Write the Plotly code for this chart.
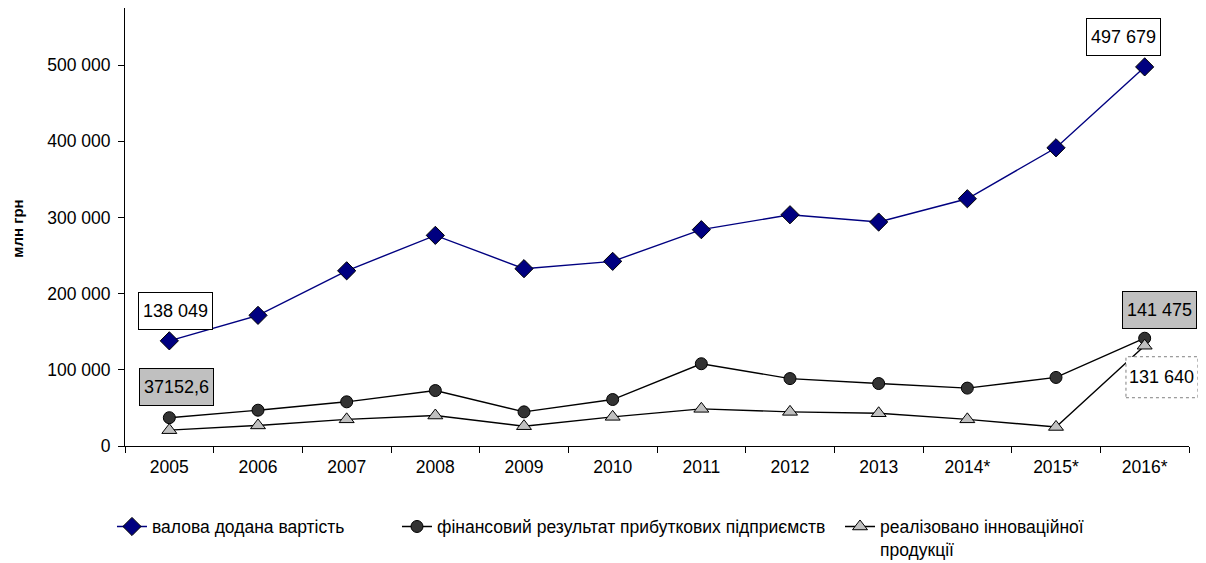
import plotly.graph_objects as go

years = ["2005", "2006", "2007", "2008", "2009", "2010", "2011", "2012", "2013", "2014*", "2015*", "2016*"]
gva = [138049, 171500, 230000, 276500, 232800, 242400, 284000, 303600, 294000, 324600, 391500, 497679]
profit = [37152.6, 47000, 58000, 72800, 44800, 61000, 108000, 88500, 82000, 76000, 90000, 141475]
innov = [20800, 27000, 35000, 40000, 26000, 38300, 48800, 44800, 43000, 35000, 25000, 131640]

names = ["валова додана вартість",
         "фінансовий результат прибуткових підприємств",
         "реалізовано інноваційної<br>продукції"]
labels = ["138 049", "37152,6", "497 679", "141 475", "131 640"]

font = "Arial, Liberation Sans, sans-serif"
ymax = 575000

fig = go.Figure()
fig.add_trace(go.Scatter(x=years, y=gva, name=names[0], mode="lines+markers", legend="legend",
                         line=dict(color="#000080", width=1.4),
                         marker=dict(symbol="diamond", size=14, color="#000080",
                                     line=dict(color="black", width=1))))
fig.add_trace(go.Scatter(x=years, y=profit, name=names[1], mode="lines+markers", legend="legend2",
                         line=dict(color="black", width=1.4),
                         marker=dict(symbol="circle", size=12, color="#333333",
                                     line=dict(color="black", width=1))))
fig.add_trace(go.Scatter(x=years, y=innov, name=names[2], mode="lines+markers", legend="legend3",
                         line=dict(color="black", width=1.4),
                         marker=dict(symbol="triangle-up", size=13, color="#c0c0c0",
                                     line=dict(color="black", width=1))))


def box(xi, y, text, bg, border, xshift, yshift):
    return dict(x=xi, y=y, xref="x", yref="y", text=text, showarrow=False,
                xshift=xshift, yshift=yshift, height=28,
                font=dict(family=font, size=18, color="black"),
                bgcolor=bg, bordercolor=border, borderwidth=1, borderpad=4)


def leg(x):
    return dict(orientation="h", xref="container", yref="container", x=x, xanchor="left",
                y=0.098, yanchor="top", font=dict(family=font, size=17.5, color="black"),
                valign="top", bgcolor="rgba(0,0,0,0)")


fig.update_layout(
    shapes=[
        dict(type="rect", xref="paper", yref="paper", xsizemode="pixel", ysizemode="pixel",
             xanchor=(11 + 0.5) / len(years), yanchor=innov[11] / ymax,
             x0=-18.7, x1=53.3, y0=-52, y1=-11,
             fillcolor="white", line=dict(color="#808080", width=1, dash="dot"),
             layer="above"),
    ],
    annotations=[
        box(0, gva[0], labels[0], "white", "black", 6, 30),
        box(0, profit[0], labels[1], "#c0c0c0", "black", 7, 31),
        box(11, gva[11], labels[2], "white", "black", -21, 30),
        box(11, profit[11], labels[3], "#c0c0c0", "black", 15, 28),
        dict(x=11, y=innov[11], xref="x", yref="y", text=labels[4], showarrow=False,
             xshift=17.3, yshift=-31.5, font=dict(family=font, size=18, color="black")),
        dict(text="<b>млн грн</b>", xref="paper", yref="paper", x=-0.1006, y=0.496,
             xanchor="center", yanchor="middle", textangle=-90, showarrow=False,
             font=dict(family=font, size=15, color="black")),
    ],
    width=1198, height=555,
    margin=dict(l=117, r=17, t=0, b=116.5),
    plot_bgcolor="white", paper_bgcolor="white",
    separators=", ",
    font=dict(family=font, size=18, color="black"),
    showlegend=True,
    legend=leg(0.0868),
    legend2=leg(0.3247),
    legend3=leg(0.6945),
    xaxis=dict(type="category", range=[-0.5, 11.5], showline=True, linecolor="black",
               linewidth=1, ticks="outside", tickson="boundaries", ticklen=6,
               tickcolor="black", showgrid=False, zeroline=False, automargin=False,
               ticklabelstandoff=5, tickfont=dict(size=17.5)),
    yaxis=dict(range=[0, ymax], tickvals=[0, 100000, 200000, 300000, 400000, 500000],
               tickformat=",d", showline=True, linecolor="black", linewidth=1,
               ticks="outside", ticklen=6, tickcolor="black", showgrid=False,
               zeroline=False, automargin=False, ticklabelstandoff=4,
               tickfont=dict(size=17.5)),
)

fig.write_html("out.html")
